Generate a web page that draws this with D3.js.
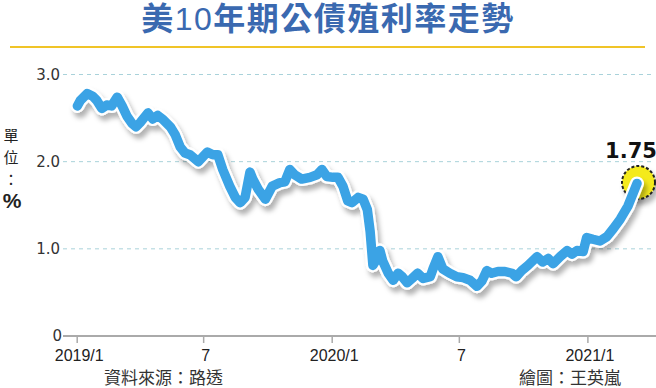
<!DOCTYPE html>
<html>
<head>
<meta charset="utf-8">
<script src="https://cdn.jsdelivr.net/npm/d3@7"></script>
<style>
  body { margin: 0; background: #fff; }
  svg { display: block; }
</style>
</head>
<body>
<svg id="chart"></svg>
<script>
// chart data
const dates = [
  '2019-01-02','2019-01-06','2019-01-16','2019-01-24','2019-01-30','2019-02-06','2019-02-13','2019-02-20',
  '2019-02-28','2019-03-07','2019-03-14','2019-03-21','2019-03-27','2019-04-02','2019-04-13','2019-04-20',
  '2019-04-27','2019-05-05','2019-05-15','2019-05-22','2019-05-29','2019-06-05','2019-06-12','2019-06-24',
  '2019-07-01','2019-07-07','2019-07-15','2019-07-22','2019-07-29','2019-08-08','2019-08-16','2019-08-23',
  '2019-08-30','2019-09-06','2019-09-10','2019-09-18','2019-09-28','2019-10-08','2019-10-19','2019-10-26',
  '2019-11-02','2019-11-09','2019-11-19','2019-12-01','2019-12-11','2019-12-18','2019-12-25','2020-01-03',
  '2020-01-10','2020-01-17','2020-01-24','2020-01-30','2020-02-08','2020-02-15','2020-02-21','2020-02-25',
  '2020-02-29','2020-03-06','2020-03-10','2020-03-14','2020-03-22','2020-03-29','2020-04-05','2020-04-11',
  '2020-04-18','2020-04-25','2020-05-03','2020-05-11','2020-05-21','2020-05-25','2020-06-01','2020-06-08',
  '2020-06-18','2020-06-28','2020-07-07','2020-07-17','2020-07-27','2020-08-03','2020-08-10','2020-08-17',
  '2020-08-26','2020-09-05','2020-09-15','2020-09-21','2020-09-29','2020-10-08','2020-10-21','2020-10-29',
  '2020-11-06','2020-11-13','2020-11-23','2020-12-03','2020-12-10','2020-12-17','2020-12-26','2020-12-31',
  '2021-01-09','2021-01-19','2021-01-29','2021-02-07','2021-02-17','2021-02-28','2021-03-13'
];
const yields = [
  2.64, 2.70, 2.78, 2.75, 2.70, 2.61, 2.65, 2.64,
  2.74, 2.64, 2.52, 2.44, 2.40, 2.45, 2.56, 2.49,
  2.53, 2.48, 2.40, 2.31, 2.17, 2.10, 2.08, 2.00,
  2.06, 2.11, 2.08, 2.08, 1.91, 1.72, 1.59, 1.53,
  1.59, 1.88, 1.80, 1.68, 1.57, 1.72, 1.76, 1.77,
  1.91, 1.85, 1.80, 1.82, 1.85, 1.91, 1.83, 1.82,
  1.82, 1.72, 1.55, 1.53, 1.59, 1.57, 1.45, 1.20,
  0.81, 0.89, 0.98, 0.86, 0.72, 0.64, 0.72, 0.68,
  0.61, 0.66, 0.72, 0.66, 0.68, 0.77, 0.91, 0.77,
  0.72, 0.68, 0.67, 0.64, 0.57, 0.63, 0.75, 0.72,
  0.74, 0.74, 0.72, 0.68, 0.75, 0.81, 0.91, 0.85,
  0.89, 0.83, 0.91, 0.98, 0.94, 0.98, 0.97, 1.13,
  1.11, 1.09, 1.14, 1.23, 1.34, 1.49, 1.75
];
const xTickDates = ['2019-01-01', '2019-07-01', '2020-01-01', '2020-07-01', '2021-01-01'];
const xTickLabels = ['2019/1', '7', '2020/1', '7', '2021/1'];
const yTicks = [0, 1, 2, 3];
const yTickLabels = ['0', '1.0', '2.0', '3.0'];

const width = 656, height = 388;
const parse = d3.timeParse('%Y-%m-%d');
const data = dates.map((d, i) => ({ date: parse(d), value: yields[i] }));

const svg = d3.select('#chart')
  .attr('width', width)
  .attr('height', height);

const defs = svg.append('defs');
const shadow = defs.append('filter')
  .attr('id', 'shadow')
  .attr('x', '-10%').attr('y', '-20%')
  .attr('width', '130%').attr('height', '150%');
shadow.append('feDropShadow')
  .attr('dx', 3).attr('dy', 5)
  .attr('stdDeviation', 2.5)
  .attr('flood-color', '#000')
  .attr('flood-opacity', 0.3);

// scales
const x = d3.scaleTime()
  .domain([parse('2019-01-01'), parse('2021-01-01')])
  .range([76.7, 587.4]);

const y = d3.scaleLinear()
  .domain([0, 3])
  .range([336, 74.5]);

// title
const title = svg.append('text')
  .attr('x', width / 2)
  .attr('y', 30)
  .attr('text-anchor', 'middle')
  .attr('fill', '#3a69b0')
  .attr('font-size', 32)
  .attr('letter-spacing', 1.5)
  .attr('font-family', '"Noto Sans CJK TC", sans-serif')
  .attr('font-weight', 'bold');
title.append('tspan').text('美');
title.append('tspan')
  .attr('font-family', '"Liberation Sans", Arial, sans-serif')
  .attr('font-weight', 'normal')
  .text('10');
title.append('tspan').text('年期公債殖利率走勢');

svg.append('line')
  .attr('x1', 10).attr('x2', 645)
  .attr('y1', 47).attr('y2', 47)
  .attr('stroke', '#f0c428')
  .attr('stroke-width', 2);

// grid lines
svg.append('g')
  .selectAll('line')
  .data(yTicks.filter(d => d > 0))
  .join('line')
  .attr('x1', 63).attr('x2', 652)
  .attr('y1', d => y(d)).attr('y2', d => y(d))
  .attr('stroke', '#a9d2da')
  .attr('stroke-width', 1)
  .attr('stroke-dasharray', '4,4');

// y labels
svg.append('g')
  .selectAll('text')
  .data(yTicks)
  .join('text')
  .attr('x', (d) => d === 0 ? 62 : 60)
  .attr('y', d => y(d))
  .attr('dy', '0.36em')
  .attr('text-anchor', 'end')
  .attr('font-family', '"DejaVu Sans", sans-serif')
  .attr('font-size', 15)
  .attr('fill', '#333')
  .text((d, i) => yTickLabels[i]);

// x axis
const xAxis = svg.append('g')
  .attr('transform', `translate(0, ${y(0)})`)
  .call(d3.axisBottom(x)
    .tickValues(xTickDates.map(parse))
    .tickSize(7)
    .tickPadding(7)
    .tickFormat((d, i) => xTickLabels[i]));
xAxis.select('.domain').remove();
xAxis.selectAll('.tick line').attr('stroke', '#aaa').attr('stroke-width', 1.5);
xAxis.selectAll('.tick text')
  .attr('font-family', '"Liberation Sans", Arial, sans-serif')
  .attr('font-size', 16)
  .attr('fill', '#222')
  .attr('dx', 2);
xAxis.append('line')
  .attr('x1', 63).attr('x2', width)
  .attr('stroke', '#aaa')
  .attr('stroke-width', 2);

// unit label
const unit = svg.append('g')
  .attr('font-family', '"Noto Sans CJK TC", sans-serif')
  .attr('fill', '#222')
  .attr('text-anchor', 'middle');
unit.append('text').attr('x', 11).attr('y', 141).attr('font-size', 15).text('單');
unit.append('text').attr('x', 11).attr('y', 163).attr('font-size', 15).text('位');
unit.append('text').attr('x', 11).attr('y', 185).attr('font-size', 15).text('：');
unit.append('text').attr('x', 12).attr('y', 208).attr('font-size', 21)
  .attr('font-weight', 'bold')
  .attr('font-family', '"Liberation Sans", Arial, sans-serif')
  .text('%');

// end marker
const last = data[data.length - 1];
svg.append('circle')
  .attr('cx', x(last.date) + 1.5)
  .attr('cy', y(last.value) - 1)
  .attr('r', 16.5)
  .attr('fill', '#f4ea1a')
  .attr('stroke', '#222')
  .attr('stroke-width', 2)
  .attr('stroke-dasharray', '3,2')
  .attr('filter', 'url(#shadow)');

// line
const line = d3.line()
  .x(d => x(d.date))
  .y(d => y(d.value));

const lineGroup = svg.append('g').attr('filter', 'url(#shadow)');
lineGroup.append('path')
  .datum(data)
  .attr('d', line)
  .attr('fill', 'none')
  .attr('stroke', '#fff')
  .attr('stroke-width', 14)
  .attr('stroke-linejoin', 'round')
  .attr('stroke-linecap', 'round');
lineGroup.append('path')
  .datum(data)
  .attr('d', line)
  .attr('fill', 'none')
  .attr('stroke', '#3aa3e5')
  .attr('stroke-width', 9.5)
  .attr('stroke-linejoin', 'round')
  .attr('stroke-linecap', 'round');

// end value label
svg.append('text')
  .attr('x', 631)
  .attr('y', 158)
  .attr('text-anchor', 'middle')
  .attr('font-family', '"DejaVu Sans", sans-serif')
  .attr('font-weight', 'bold')
  .attr('font-size', 21)
  .attr('fill', '#111')
  .text(last.value.toFixed(2));

// footer
svg.append('text')
  .attr('x', 104).attr('y', 384)
  .attr('font-family', '"Noto Sans CJK TC", sans-serif')
  .attr('font-size', 17)
  .attr('fill', '#333')
  .text('資料來源：路透');
svg.append('text')
  .attr('x', 621).attr('y', 384)
  .attr('text-anchor', 'end')
  .attr('font-family', '"Noto Sans CJK TC", sans-serif')
  .attr('font-size', 17)
  .attr('fill', '#333')
  .text('繪圖：王英嵐');
</script>
</body>
</html>
